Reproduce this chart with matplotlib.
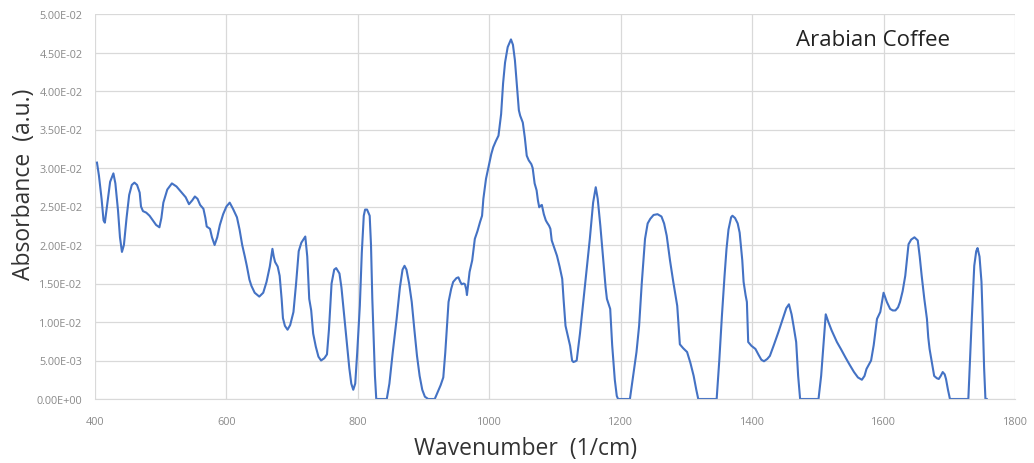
import matplotlib
matplotlib.use("Agg")
import matplotlib.pyplot as plt
from matplotlib.ticker import FuncFormatter

wavenumber = [403, 406, 410, 413, 415, 419, 423, 428, 431, 435, 438, 441, 444, 448, 452, 456, 460, 464, 468, 470,
              473, 478, 483, 488, 493, 498, 501, 504, 510, 517, 524, 532, 538, 543, 548, 552, 556, 560, 565, 568,
              570, 575, 578, 582, 586, 590, 595, 600, 605, 610, 616, 620, 624, 628, 631, 635, 638, 643, 650, 656,
              661, 666, 670, 672, 674, 678, 681, 684, 686, 689, 693, 697, 702, 706, 710, 714, 720, 723, 726, 729,
              732, 736, 740, 744, 749, 753, 756, 760, 764, 767, 772, 775, 779, 783, 787, 790, 793, 796, 799, 803,
              806, 809, 811, 814, 818, 820, 822, 824, 826, 828, 844, 848, 853, 859, 864, 868, 871, 874, 878, 882,
              886, 890, 894, 898, 902, 907, 917, 922, 926, 930, 933, 936, 938, 942, 945, 950, 953, 956, 958, 961,
              963, 965, 966, 968, 970, 974, 978, 982, 986, 989, 991, 995, 999, 1003, 1006, 1010, 1014, 1018, 1021, 1024,
              1028, 1033, 1036, 1039, 1042, 1045, 1047, 1051, 1054, 1057, 1060, 1064, 1066, 1069, 1072, 1074, 1076, 1078, 1080, 1083,
              1086, 1088, 1091, 1093, 1095, 1099, 1103, 1107, 1111, 1113, 1116, 1120, 1123, 1126, 1128, 1131, 1133, 1138, 1143, 1148,
              1153, 1158, 1162, 1165, 1169, 1173, 1177, 1179, 1184, 1187, 1191, 1194, 1196, 1214, 1219, 1224, 1228, 1232, 1237, 1241,
              1245, 1250, 1256, 1262, 1266, 1270, 1275, 1280, 1286, 1288, 1290, 1295, 1301, 1306, 1311, 1315, 1318, 1346, 1350, 1354,
              1358, 1361, 1364, 1368, 1370, 1374, 1378, 1381, 1385, 1387, 1390, 1392, 1394, 1399, 1405, 1410, 1414, 1418, 1423, 1427,
              1433, 1440, 1447, 1452, 1456, 1460, 1463, 1467, 1470, 1473, 1501, 1505, 1508, 1512, 1516, 1521, 1529, 1535, 1542, 1548,
              1555, 1561, 1567, 1571, 1574, 1581, 1585, 1590, 1595, 1600, 1605, 1610, 1614, 1618, 1622, 1625, 1629, 1633, 1638, 1642,
              1647, 1652, 1655, 1658, 1662, 1666, 1668, 1670, 1673, 1677, 1681, 1684, 1687, 1690, 1693, 1695, 1698, 1701, 1729, 1731,
              1734, 1738, 1741, 1743, 1746, 1749, 1751, 1753, 1755, 1757]

absorbance = [0.0307, 0.0290, 0.0260, 0.0232, 0.0229, 0.0255, 0.0282, 0.0293, 0.0280, 0.0245, 0.0210, 0.0191, 0.0200, 0.0235, 0.0265, 0.0278, 0.0281, 0.0278, 0.0268, 0.0250,
              0.0244, 0.0242, 0.0238, 0.0232, 0.0226, 0.0223, 0.0235, 0.0255, 0.0272, 0.0280, 0.0276, 0.0268, 0.0262, 0.0253, 0.0258, 0.0263, 0.0260, 0.0252, 0.0247, 0.0235,
              0.0224, 0.0221, 0.0210, 0.0200, 0.0210, 0.0226, 0.0240, 0.0250, 0.0255, 0.0247, 0.0236, 0.0220, 0.0200, 0.0185, 0.0173, 0.0155, 0.0147, 0.0138, 0.0133, 0.0138,
              0.0152, 0.0172, 0.0195, 0.0185, 0.0178, 0.0172, 0.0160, 0.0130, 0.0105, 0.0095, 0.0090, 0.0096, 0.0113, 0.0150, 0.0192, 0.0203, 0.0211, 0.0185, 0.0130, 0.0115,
              0.0085, 0.0068, 0.0055, 0.0050, 0.0053, 0.0058, 0.0090, 0.0150, 0.0168, 0.0170, 0.0163, 0.0145, 0.0110, 0.0074, 0.0040, 0.0020, 0.0012, 0.0020, 0.0060, 0.0121,
              0.0190, 0.0238, 0.0246, 0.0246, 0.0238, 0.0200, 0.0130, 0.0078, 0.0030, 0.0000, 0.0000, 0.0020, 0.0060, 0.0104, 0.0145, 0.0168, 0.0173, 0.0168, 0.0150, 0.0126,
              0.0090, 0.0056, 0.0030, 0.0012, 0.0003, 0.0000, 0.0000, 0.0010, 0.0018, 0.0028, 0.0060, 0.0100, 0.0126, 0.0143, 0.0152, 0.0157, 0.0158, 0.0152, 0.0149, 0.0150,
              0.0149, 0.0142, 0.0135, 0.0150, 0.0165, 0.0180, 0.0208, 0.0218, 0.0230, 0.0238, 0.0260, 0.0286, 0.0302, 0.0318, 0.0327, 0.0335, 0.0342, 0.0370, 0.0410, 0.0437,
              0.0457, 0.0467, 0.0460, 0.0440, 0.0407, 0.0375, 0.0368, 0.0359, 0.0340, 0.0316, 0.0310, 0.0305, 0.0300, 0.0280, 0.0271, 0.0258, 0.0249, 0.0251, 0.0252, 0.0240,
              0.0232, 0.0229, 0.0225, 0.0221, 0.0206, 0.0196, 0.0186, 0.0172, 0.0156, 0.0130, 0.0095, 0.0080, 0.0069, 0.0050, 0.0048, 0.0049, 0.0050, 0.0085, 0.0126, 0.0167,
              0.0208, 0.0255, 0.0275, 0.0260, 0.0225, 0.0185, 0.0145, 0.0130, 0.0117, 0.0070, 0.0025, 0.0004, 0.0000, 0.0000, 0.0030, 0.0061, 0.0095, 0.0150, 0.0208, 0.0228,
              0.0234, 0.0239, 0.0240, 0.0237, 0.0228, 0.0212, 0.0180, 0.0152, 0.0121, 0.0095, 0.0071, 0.0066, 0.0061, 0.0047, 0.0030, 0.0012, 0.0000, 0.0000, 0.0050, 0.0108,
              0.0160, 0.0195, 0.0220, 0.0236, 0.0238, 0.0235, 0.0228, 0.0216, 0.0180, 0.0152, 0.0135, 0.0126, 0.0074, 0.0069, 0.0065, 0.0057, 0.0051, 0.0049, 0.0052, 0.0056,
              0.0070, 0.0087, 0.0105, 0.0118, 0.0123, 0.0110, 0.0095, 0.0074, 0.0030, 0.0000, 0.0000, 0.0030, 0.0065, 0.0110, 0.0100, 0.0089, 0.0074, 0.0065, 0.0054, 0.0045,
              0.0035, 0.0028, 0.0025, 0.0030, 0.0039, 0.0050, 0.0070, 0.0104, 0.0113, 0.0138, 0.0126, 0.0117, 0.0115, 0.0115, 0.0119, 0.0126, 0.0140, 0.0160, 0.0201, 0.0207,
              0.0210, 0.0206, 0.0185, 0.0160, 0.0130, 0.0104, 0.0080, 0.0065, 0.0050, 0.0030, 0.0027, 0.0026, 0.0030, 0.0035, 0.0032, 0.0026, 0.0012, 0.0000, 0.0000, 0.0040,
              0.0100, 0.0173, 0.0192, 0.0196, 0.0185, 0.0152, 0.0100, 0.0040, 0.0000, 0.0000]

x_ticks = [400, 600, 800, 1000, 1200, 1400, 1600, 1800]
y_ticks = [0.0, 0.005, 0.01, 0.015, 0.02, 0.025, 0.03, 0.035, 0.04, 0.045, 0.05]
title_text = "Arabian Coffee"
x_label = "Wavenumber  (1/cm)"
y_label = "Absorbance  (a.u.)"

plt.rcParams['font.family'] = ['Open Sans', 'DejaVu Sans']

W, H = 1034, 464
fig = plt.figure(figsize=(W / 100, H / 100), dpi=100)
ax = fig.add_axes([95 / W, 64 / H, 920 / W, 385 / H])

ax.plot(wavenumber, absorbance, color='#4472C4', linewidth=1.5, solid_joinstyle='round')

ax.set_xlim(400, 1800)
ax.set_ylim(0, 0.05)
ax.set_xticks(x_ticks)
ax.set_yticks(y_ticks)


def sci_fmt(v, pos):
    return "%.2E" % v


ax.yaxis.set_major_formatter(FuncFormatter(sci_fmt))
ax.grid(True, color='#d9d9d9', linewidth=0.9)
ax.set_axisbelow(True)
for side in ['top', 'right', 'left']:
    ax.spines[side].set_visible(False)
ax.spines['bottom'].set_color('#d9d9d9')
ax.tick_params(axis='both', length=0, labelsize=7.8, labelcolor='#8a8a8a')
ax.tick_params(axis='y', pad=9)
ax.tick_params(axis='x', pad=12)

fig.text(526 / W, 1 - 449 / H, x_label, fontsize=16.5, color='#333333',
         ha='center', va='center')
fig.text(24 / W, 1 - 184 / H, y_label, fontsize=16.5, color='#333333',
         ha='center', va='center', rotation=90)

fig.text(796 / W, 1 - 41 / H, title_text, fontsize=16, color='#222222',
         ha='left', va='center')

fig.savefig("out.png", dpi=100)
